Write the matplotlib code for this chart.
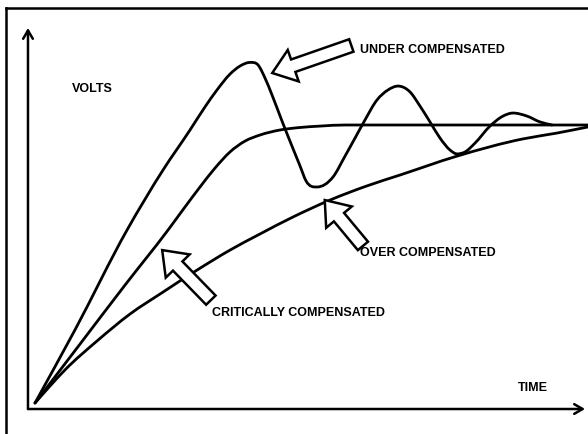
import matplotlib
matplotlib.use("Agg")
import matplotlib.pyplot as plt
from matplotlib.patches import FancyArrowPatch, PathPatch
from matplotlib.path import Path

# ---- data (time in arbitrary units, volts normalised to final value 1.0) ----
under_t = [0, 0.723, 1.664, 2.315, 2.803, 3.074, 3.291, 3.526, 3.707, 3.888, 4.033, 4.159,
           4.286, 4.467, 4.647, 4.792, 4.901, 5.100, 5.389, 5.606, 5.787, 5.967,
           6.184, 6.383, 6.564, 6.781, 6.962, 7.143, 7.324, 7.505, 7.631, 7.776, 7.957,
           8.228, 8.463, 8.644, 8.897, 9.132, 9.349]
under_v = [0, 0.263, 0.622, 0.838, 0.982, 1.065, 1.126, 1.183, 1.212, 1.225, 1.216, 1.169,
           1.108, 1.014, 0.924, 0.853, 0.799, 0.777, 0.813, 0.888, 0.953, 1.018,
           1.090, 1.126, 1.140, 1.119, 1.068, 1.011, 0.953, 0.910, 0.896, 0.903, 0.935,
           0.996, 1.032, 1.043, 1.032, 1.011, 1.000]

crit_t = [0, 0.814, 1.627, 2.405, 2.712, 2.984, 3.255, 3.526, 3.797, 4.069, 4.430, 4.792,
          5.154, 5.606, 10.0]
crit_v = [0, 0.212, 0.424, 0.622, 0.705, 0.777, 0.845, 0.903, 0.942, 0.964, 0.982, 0.991,
          0.996, 1.0, 1.0]

over_t = [0, 0.271, 0.542, 1.121, 1.718, 2.315, 2.929, 3.526, 4.069, 4.665, 5.335, 6.004,
          6.600, 7.631, 8.825, 9.439, 10.0]
over_v = [0, 0.061, 0.119, 0.223, 0.320, 0.399, 0.478, 0.550, 0.608, 0.669, 0.730, 0.781,
          0.820, 0.888, 0.950, 0.971, 0.993]

labels = ["VOLTS", "TIME", "UNDER COMPENSATED", "OVER COMPENSATED", "CRITICALLY COMPENSATED"]


def smooth_path(xs, ys):
    """Smooth cubic (Hermite) curve through the points, as Bezier segments."""
    n = len(xs)
    h = [xs[i + 1] - xs[i] for i in range(n - 1)]
    d = [(ys[i + 1] - ys[i]) / h[i] for i in range(n - 1)]
    m = [0.0] * n
    m[0] = d[0]
    m[-1] = d[-1]
    for i in range(1, n - 1):
        if d[i - 1] * d[i] <= 0:
            m[i] = 0.0
        else:
            m[i] = (h[i] * d[i - 1] + h[i - 1] * d[i]) / (h[i - 1] + h[i])
    verts = [(xs[0], ys[0])]
    codes = [Path.MOVETO]
    for i in range(n - 1):
        c1 = (xs[i] + h[i] / 3.0, ys[i] + m[i] * h[i] / 3.0)
        c2 = (xs[i + 1] - h[i] / 3.0, ys[i + 1] - m[i + 1] * h[i] / 3.0)
        verts += [c1, c2, (xs[i + 1], ys[i + 1])]
        codes += [Path.CURVE4] * 3
    return Path(verts, codes)


fig = plt.figure(figsize=(5.88, 4.34), dpi=100)
ax = fig.add_axes([0, 0, 1, 1])
ax.set_xlim(-0.633, 10.0)
ax.set_ylim(-0.1115, 1.4496)
ax.axis("off")

for xs, ys in [(under_t, under_v), (crit_t, crit_v), (over_t, over_v)]:
    ax.add_patch(PathPatch(smooth_path(xs, ys), facecolor="none", edgecolor="black",
                           lw=2.0, capstyle="round", joinstyle="round", clip_on=False))

# outer frame (top and left edges visible)
ax.plot([-0.524, 10.0], [1.421, 1.421], color="black", lw=1.8, clip_on=False)
ax.plot([-0.524, -0.524], [-0.12, 1.421], color="black", lw=1.8, clip_on=False)

# axes with open arrowheads
ax.annotate("", xy=(-0.127, 1.349), xytext=(-0.127, -0.0216),
            arrowprops=dict(arrowstyle="->,head_length=0.6,head_width=0.35", lw=1.8,
                            color="black", shrinkA=0, shrinkB=0))
ax.annotate("", xy=(9.946, -0.0216), xytext=(-0.127, -0.0216),
            arrowprops=dict(arrowstyle="->,head_length=0.6,head_width=0.35", lw=1.8,
                            color="black", shrinkA=0, shrinkB=0))

# block arrows
style = "simple,head_length=1.6,head_width=2.4,tail_width=0.95"
for tail, tip in [((5.72, 1.286), (4.29, 1.187)),
                  ((5.93, 0.565), (5.24, 0.730)),
                  ((3.18, 0.370), (2.30, 0.550))]:
    p = FancyArrowPatch(posA=tail, posB=tip, arrowstyle=style, mutation_scale=10,
                        facecolor="white", edgecolor="black", lw=1.8,
                        shrinkA=0, shrinkB=0, zorder=5, joinstyle="miter")
    ax.add_patch(p)

tkw = dict(fontfamily="Liberation Sans", fontweight="bold", fontsize=9,
           va="center", ha="left", color="black")
ax.text(0.67, 1.129, labels[0], **tkw)
ax.text(8.73, 0.054, labels[1], **tkw)
ax.text(5.88, 1.270, labels[2], **tkw)
ax.text(5.88, 0.540, labels[3], **tkw)
ax.text(3.20, 0.324, labels[4], **tkw)

fig.savefig("out.png", dpi=100)
